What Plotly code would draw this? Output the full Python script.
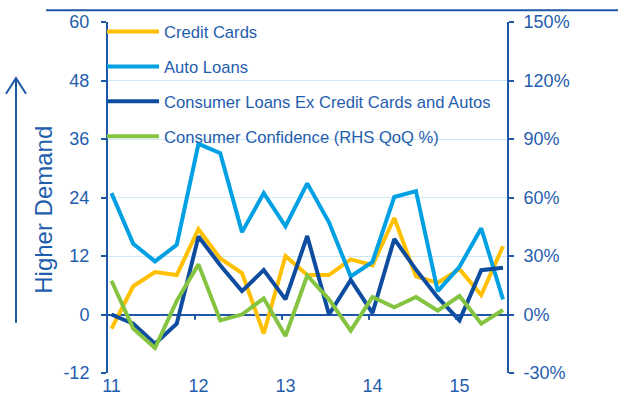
import plotly.graph_objects as go

# quarterly points, 2011 Q1 .. 2015 Q3 (x-axis shows 2-digit years)
quarters = [11 + i / 4 for i in range(19)]

credit_cards = [-2.9, 5.8, 8.7, 8.1, 17.5, 11.5, 8.5, -3.9, 12.0, 8.1,
                8.1, 11.3, 10.1, 19.8, 7.8, 6.5, 9.3, 4.0, 14.0]
auto_loans = [24.9, 14.5, 10.9, 14.3, 35.0, 33.1, 16.9, 24.9, 18.1, 26.9,
              18.9, 7.8, 10.8, 24.1, 25.3, 4.8, 9.8, 17.7, 3.1]
consumer_ex = [0.0, -1.9, -6.0, -1.9, 16.0, 10.1, 4.8, 9.1, 3.1, 16.1,
               0.0, 7.1, 0.3, 15.5, 9.2, 3.5, -1.2, 9.1, 9.6]
# consumer confidence, QoQ % on the right axis
confidence = [17.3, -7.2, -17.2, 7.0, 25.7, -3.0, 0.0, 8.3, -11.0, 20.0,
              7.8, -8.3, 9.0, 3.7, 9.0, 2.0, 9.5, -4.7, 2.3]

year_ticks = [11, 12, 13, 14, 15]
year_labels = ["11", "12", "13", "14", "15"]

left_ticks = [-12, 0, 12, 24, 36, 48, 60]
left_labels = ["-12", "0", "12", "24", "36", "48", "60"]
right_ticks = [-30, 0, 30, 60, 90, 120, 150]
right_labels = ["-30%", "0%", "30%", "60%", "90%", "120%", "150%"]

# colours
sb = {
    'credit': '#FFC000',
    'auto': '#00A0E3',
    'consumer': '#0D4C9F',
    'confidence': '#85C441',
}
text_blue = '#1F5DAD'
axis_blue = '#1E57A5'
grid_blue = '#CDE9F6'

fig = go.Figure()

series = [
    ('Credit Cards', credit_cards, sb['credit'], 'y'),
    ('Auto Loans', auto_loans, sb['auto'], 'y'),
    ('Consumer Loans Ex Credit Cards and Autos', consumer_ex, sb['consumer'], 'y'),
    ('Consumer Confidence (RHS QoQ %)', confidence, sb['confidence'], 'y2'),
]
for i, (name, vals, col, ax) in enumerate(series):
    fig.add_trace(go.Scatter(
        x=quarters, y=vals, name=name, mode='lines', yaxis=ax,
        line=dict(color=col, width=4), legendgroup=str(i),
    ))

fig.update_layout(
    width=618, height=408,
    margin=dict(l=108, r=111, t=19, b=32),
    paper_bgcolor='white', plot_bgcolor='white',
    font=dict(family='Liberation Sans, Arial', size=18, color=text_blue),
    showlegend=True,
    legend=dict(
        x=-0.015, y=1.022, xanchor='left', yanchor='top',
        bgcolor='rgba(0,0,0,0)',
        font=dict(size=16.6, color=text_blue),
        itemwidth=52, tracegroupgap=10.3,
    ),
)

fig.update_xaxes(
    range=[10.96, 15.546],
    tickvals=year_ticks, ticktext=year_labels,
    showgrid=False, zeroline=False, showline=False, ticks='',
)
fig.update_layout(
    yaxis=dict(
        range=[-12, 60], tickvals=left_ticks, ticktext=left_labels,
        showgrid=True, gridcolor=grid_blue, gridwidth=1,
        zeroline=True, zerolinecolor=axis_blue, zerolinewidth=2,
        showline=True, linecolor=axis_blue, linewidth=2,
        ticks='outside', ticklen=5, tickwidth=2, tickcolor=axis_blue,
        ticklabelstandoff=8,
    ),
    yaxis2=dict(
        range=[-30, 150], tickvals=right_ticks, ticktext=right_labels,
        overlaying='y', side='right', anchor='x',
        showgrid=False, zeroline=False,
        showline=True, linecolor=axis_blue, linewidth=2,
        ticks='outside', ticklen=5, tickwidth=2, tickcolor=axis_blue,
        ticklabelstandoff=6,
    ),
)

# small year ticks that hang from the zero line
for yr in year_ticks[1:]:
    fig.add_shape(type='line', xref='x', yref='y', x0=yr - 0.04, x1=yr - 0.04,
                  y0=0, y1=-1.1, line=dict(color=axis_blue, width=2))

# rule across the top of the chart
fig.add_shape(type='line', xref='paper', yref='paper', x0=-0.155, x1=1.28,
              y0=1.0336, y1=1.0336, line=dict(color=axis_blue, width=2))

# "Higher Demand" arrow at the left
fig.add_shape(type='line', xref='paper', yref='paper', x0=-0.2306, x1=-0.2306,
              y0=0.143, y1=0.840, line=dict(color=axis_blue, width=2))
fig.add_shape(type='path', xref='paper', yref='paper',
              path='M -0.2556 0.7955 L -0.2306 0.840 L -0.2055 0.7955',
              line=dict(color=axis_blue, width=2))
fig.add_annotation(
    x=-0.1604, y=0.465, xref='paper', yref='paper',
    xanchor='center', yanchor='middle',
    text='Higher Demand', textangle=-90, showarrow=False,
    font=dict(size=24, color=text_blue),
)

# drop the default page margin so the figure sits at the window corner
fig.write_html("out.html", config={'displayModeBar': False},
               post_script="document.body.style.margin='0';")
